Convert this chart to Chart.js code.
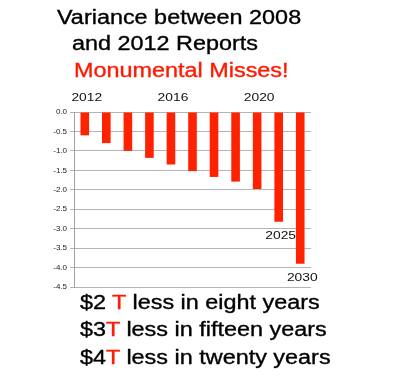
<!DOCTYPE html>
<html>
<head>
<meta charset="utf-8">
<script src="https://cdn.jsdelivr.net/npm/chart.js@4"></script>
<style>
  body { margin: 0; background: #fff; }
  #wrap { position: relative; width: 400px; height: 378px; overflow: hidden; font-family: "Liberation Sans", Arial, sans-serif; }
  #chart { position: absolute; left: 0; top: 0; }
  .txt { position: absolute; font-size: 20px; line-height: 20px; color: #000; white-space: nowrap; transform: scaleX(1.17); transform-origin: left top; -webkit-text-stroke: 0.35px currentColor; }
  .red { color: #ff1a00; }
</style>
</head>
<body>
<div id="wrap">
  <canvas id="chart" width="400" height="378"></canvas>
  <div class="txt" style="left:57px; top:7px;">Variance between 2008</div>
  <div class="txt" style="left:72px; top:33px;">and 2012 Reports</div>
  <div class="txt red" style="left:74px; top:60px;">Monumental Misses!</div>
  <div class="txt" style="left:80px; top:292px;">$2 <span class="red">T</span> less in eight years</div>
  <div class="txt" style="left:80px; top:319px;">$3<span class="red">T</span> less in fifteen years</div>
  <div class="txt" style="left:80px; top:347px;">$4<span class="red">T</span> less in twenty years</div>
</div>
<script>
// one bar per year, 2012 .. 2030 as in the report
const categories = ["2012", "2013", "2014", "2015", "2016", "2017", "2018", "2019", "2020", "2025", "2030"];
const variance = [-0.6, -0.8, -1.0, -1.18, -1.35, -1.52, -1.67, -1.79, -1.98, -2.82, -3.9];
const yearLabels = ["2012", "", "", "", "2016", "", "", "", "2020", "2025", "2030"];
const yTicks = [0, -0.5, -1, -1.5, -2, -2.5, -3, -3.5, -4, -4.5];

// draws the year names above the axis, or under the long bars
const yearLabelPlugin = {
  id: "yearLabels",
  afterDatasetsDraw(chart) {
    const ctx = chart.ctx;
    const meta = chart.getDatasetMeta(0);
    const area = chart.chartArea;
    ctx.save();
    ctx.font = "11.5px 'Liberation Sans', Arial, sans-serif";
    ctx.fillStyle = "#111";
    ctx.textAlign = "center";
    ctx.textBaseline = "middle";
    yearLabels.forEach((lab, i) => {
      if (!lab) return;
      const bar = meta.data[i];
      let y = area.top - 14;
      if (variance[i] < -2.5) y = bar.y + 14;
      ctx.save();
      ctx.translate(bar.x + 2, y);
      ctx.scale(1.2, 1);
      ctx.fillText(lab, 0, 0);
      ctx.restore();
    });
    ctx.restore();
  }
};

const chart = new Chart(document.getElementById("chart"), {
  type: "bar",
  data: {
    labels: categories,
    datasets: [{
      data: variance,
      backgroundColor: "#ff2200",
      borderWidth: 0,
      barPercentage: 0.4,
      categoryPercentage: 1.0
    }]
  },
  options: {
    responsive: false,
    animation: false,
    layout: {
      padding: { left: 0, top: 112, right: 89, bottom: 91 }
    },
    plugins: {
      legend: { display: false },
      tooltip: { enabled: false }
    },
    scales: {
      x: { display: false },
      y: {
        min: -4.5,
        max: 0,
        afterFit(scale) { scale.width = 74; },
        afterBuildTicks(scale) { scale.ticks = yTicks.map(v => ({ value: v })); },
        ticks: {
          padding: 3,
          color: "#222",
          font: { family: "'Liberation Sans', Arial, sans-serif", size: 8 },
          callback: v => Number(v).toFixed(1)
        },
        grid: {
          color: "#b4b4b4",
          tickLength: 4,
          drawTicks: true
        },
        border: { color: "#a0a0a0" }
      }
    }
  },
  plugins: [yearLabelPlugin]
});
</script>
</body>
</html>
